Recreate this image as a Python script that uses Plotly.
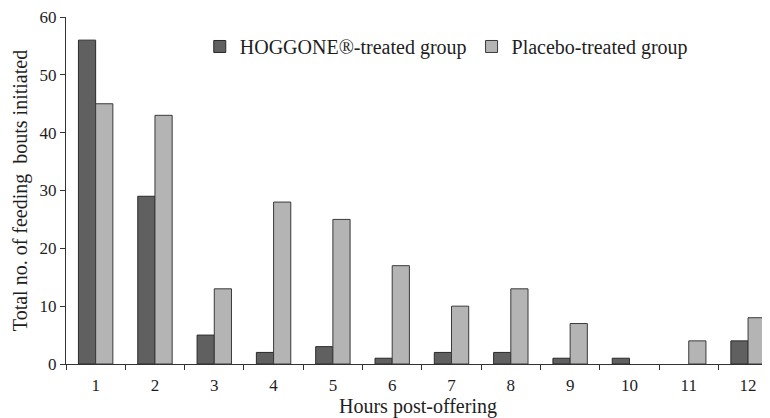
import plotly.graph_objects as go

hours = ["1", "2", "3", "4", "5", "6", "7", "8", "9", "10", "11", "12"]
hoggone = [56, 29, 5, 2, 3, 1, 2, 2, 1, 1, 0, 4]
placebo = [45, 43, 13, 28, 25, 17, 10, 13, 7, 0, 4, 8]
y_ticks = [0, 10, 20, 30, 40, 50, 60]

FONT = "Liberation Serif"
TXT = "#1e1e1e"


def outline(values):
    # no visible outline on zero-height bars
    return [1 if v > 0 else 0 for v in values]


fig = go.Figure()
fig.add_trace(go.Bar(
    x=hours, y=hoggone, name="HOGGONE®-treated group",
    marker=dict(color="#606060", line=dict(color="#2a2a2a", width=outline(hoggone))),
))
fig.add_trace(go.Bar(
    x=hours, y=placebo, name="Placebo-treated group",
    marker=dict(color="#b4b4b4", line=dict(color="#3a3a3a", width=outline(placebo))),
))

# page body adds an 8px offset, so the figure is 8px smaller on each side
fig.update_layout(
    width=762, height=410,
    margin=dict(l=58, r=0, t=9, b=54),
    paper_bgcolor="white", plot_bgcolor="white",
    barmode="group", bargap=0.42, bargroupgap=0,
    font=dict(family=FONT, size=17, color=TXT),
    showlegend=True,
    legend=dict(
        orientation="h", x=0.19, y=0.915, xanchor="left", yanchor="middle",
        font=dict(family=FONT, size=20, color=TXT),
        itemwidth=30, bgcolor="rgba(0,0,0,0)", traceorder="normal",
    ),
    xaxis=dict(
        type="category", range=[-0.5, 11.37], automargin=False,
        showline=True, linecolor="#333", linewidth=1,
        ticks="outside", tickson="boundaries", ticklen=5, tickcolor="#333",
        ticklabelstandoff=6, ticklabeloverflow="allow",
        showgrid=False, zeroline=False,
        tickfont=dict(family=FONT, size=17, color=TXT),
        title=dict(text="Hours post-offering", standoff=2,
                   font=dict(family=FONT, size=20, color=TXT)),
    ),
    yaxis=dict(
        range=[0, 60], tickvals=y_ticks, automargin=False,
        showline=True, linecolor="#333", linewidth=1,
        ticks="outside", ticklen=5, tickcolor="#333",
        ticklabeloverflow="allow",
        showgrid=False, zeroline=False,
        tickfont=dict(family=FONT, size=17, color=TXT),
        title=dict(text="Total no. of feeding  bouts initiated", standoff=6,
                   font=dict(family=FONT, size=20, color=TXT)),
    ),
)

fig.write_html("out.html")
